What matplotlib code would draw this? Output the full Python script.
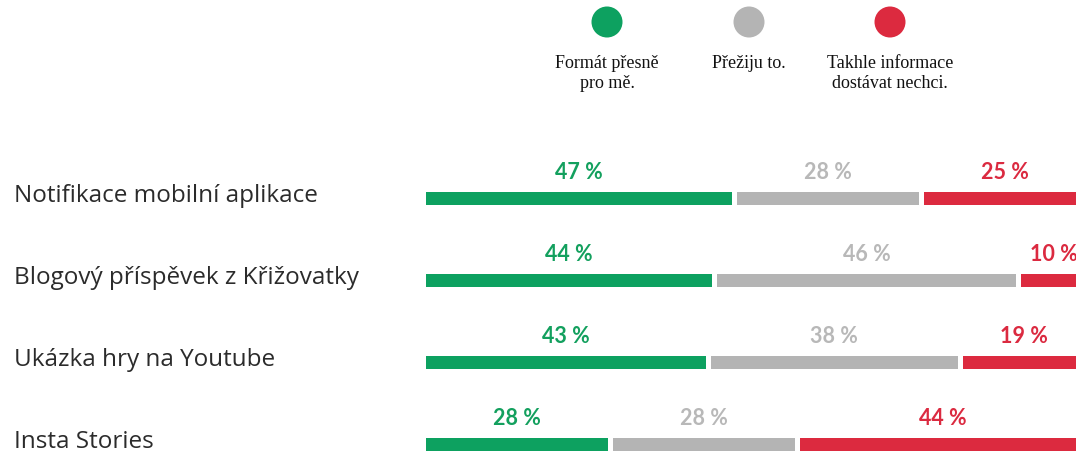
import matplotlib
matplotlib.use("Agg")
import matplotlib.pyplot as plt
from matplotlib.patches import Circle

categories = ["Notifikace mobilní aplikace", "Blogový příspěvek z Křižovatky",
              "Ukázka hry na Youtube", "Insta Stories"]
series_names = ["Formát přesně\npro mě.", "Přežiju to.", "Takhle informace\ndostávat nechci."]
values = {
    "green": [47, 44, 43, 28],
    "gray": [28, 46, 38, 28],
    "red": [25, 10, 19, 44],
}
bar_colors = ["#0DA160", "#B4B4B4", "#DC2A3F"]
text_colors = ["#13A05E", "#B8B8B8", "#DB2A40"]

W, H = 1076, 452
fig = plt.figure(figsize=(W / 100, H / 100), dpi=100)
fig.patch.set_facecolor("white")

# bar axes
top_px = 117.5
ax = fig.add_axes([426 / W, 0, 650 / W, (H - top_px) / H])
ax.set_xlim(0, 100)
ax.set_ylim(3.079, -1)
ax.axis("off")

gap = 5 / 6.5  # white gap between segments, in data units
bar_h = 13 / 82
series = [values["green"], values["gray"], values["red"]]
for i, cat in enumerate(categories):
    left = 0.0
    for k, s in enumerate(series):
        v = s[i]
        ax.barh(i, v, left=left, height=bar_h, color=bar_colors[k], edgecolor="none")
        ax.text(left + v / 2, i - 0.33, f"{v} %", ha="center", va="center",
                fontsize=15.5, fontweight="bold", color=text_colors[k],
                family=["Lato", "DejaVu Sans"])
        left += v + gap
    ax.text(-412 / 6.5, i - 0.045, cat, ha="left", va="center", fontsize=17.5,
            color="#2B2B2B", family=["Open Sans", "DejaVu Sans"],
            clip_on=False)

# legend overlay in pixel coordinates
lax = fig.add_axes([0, 0, 1, 1])
lax.set_xlim(0, W)
lax.set_ylim(H, 0)
lax.axis("off")
legend_x = [607, 749, 890]
for x, name, c in zip(legend_x, series_names, bar_colors):
    lax.add_patch(Circle((x, 23), 15.5, color=c, ec="none"))
    lax.text(x, 55, name, ha="center", va="top", fontsize=13,
             family=["Liberation Serif", "DejaVu Serif"], color="#111111",
             linespacing=1.25)

fig.savefig("out.png", dpi=100)
